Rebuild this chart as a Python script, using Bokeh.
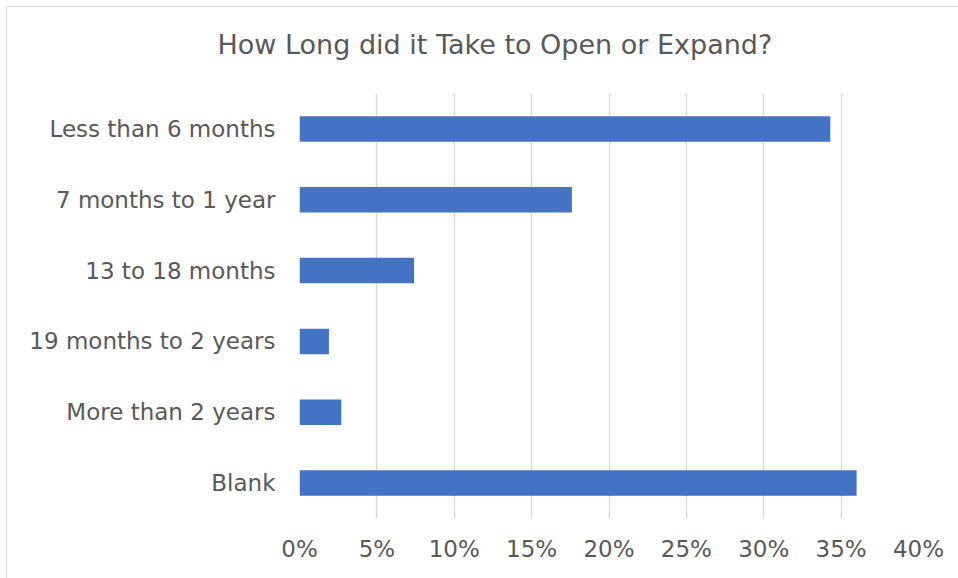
from bokeh.plotting import figure
from bokeh.models import Range1d, FactorRange, FixedTicker, PrintfTickFormatter, ColumnDataSource, Title
from bokeh.embed import file_html
from bokeh.resources import INLINE

title_text = "How Long did it Take to Open or Expand?"
categories = ["Less than 6 months", "7 months to 1 year", "13 to 18 months",
              "19 months to 2 years", "More than 2 years", "Blank"]
values = [34.3, 17.6, 7.4, 1.9, 2.7, 36.0]
x_ticks = [0, 5, 10, 15, 20, 25, 30, 35, 40]

FONT = "DejaVu Sans"
GRAY = "#595959"

p = figure(width=952, height=572, output_backend="svg", toolbar_location=None, title=None,
           y_range=FactorRange(factors=list(reversed(categories)), range_padding=0),
           x_range=Range1d(0, 40),
           min_border_left=292, min_border_right=41, min_border_top=86, min_border_bottom=61)
p.margin = (6, 0, 0, 6)
p.styles = {"border-left": "1px solid #d9d9d9", "border-top": "1px solid #d9d9d9"}

src = ColumnDataSource(dict(cat=categories, val=values))
p.hbar(y="cat", left=0, right="val", height=0.36, source=src, fill_color="#4472c4", line_color=None)

p.outline_line_color = None
p.ygrid.grid_line_color = None
p.xgrid.grid_line_color = "#d9d9d9"
p.xgrid.grid_line_width = 1.5

p.xaxis.ticker = FixedTicker(ticks=x_ticks)
p.xaxis.formatter = PrintfTickFormatter(format="%d%%")
for ax in (p.xaxis, p.yaxis):
    ax.axis_line_color = None
    ax.major_tick_line_color = None
    ax.minor_tick_line_color = None
    ax.major_label_text_font = FONT
    ax.major_label_text_font_size = "23px"
    ax.major_label_text_color = GRAY
p.xaxis.major_label_standoff = 11
p.yaxis.major_label_standoff = 18

# spacer between the title and the plot frame
p.add_layout(Title(text=" ", text_font_size="1px", standoff=31), "above")
p.add_layout(Title(text=title_text, align="left", offset=-82, text_font=FONT,
                   text_font_size="27px", text_font_style="normal", text_color=GRAY,
                   standoff=0), "above")

open("out.html", "w").write(file_html(p, INLINE))
